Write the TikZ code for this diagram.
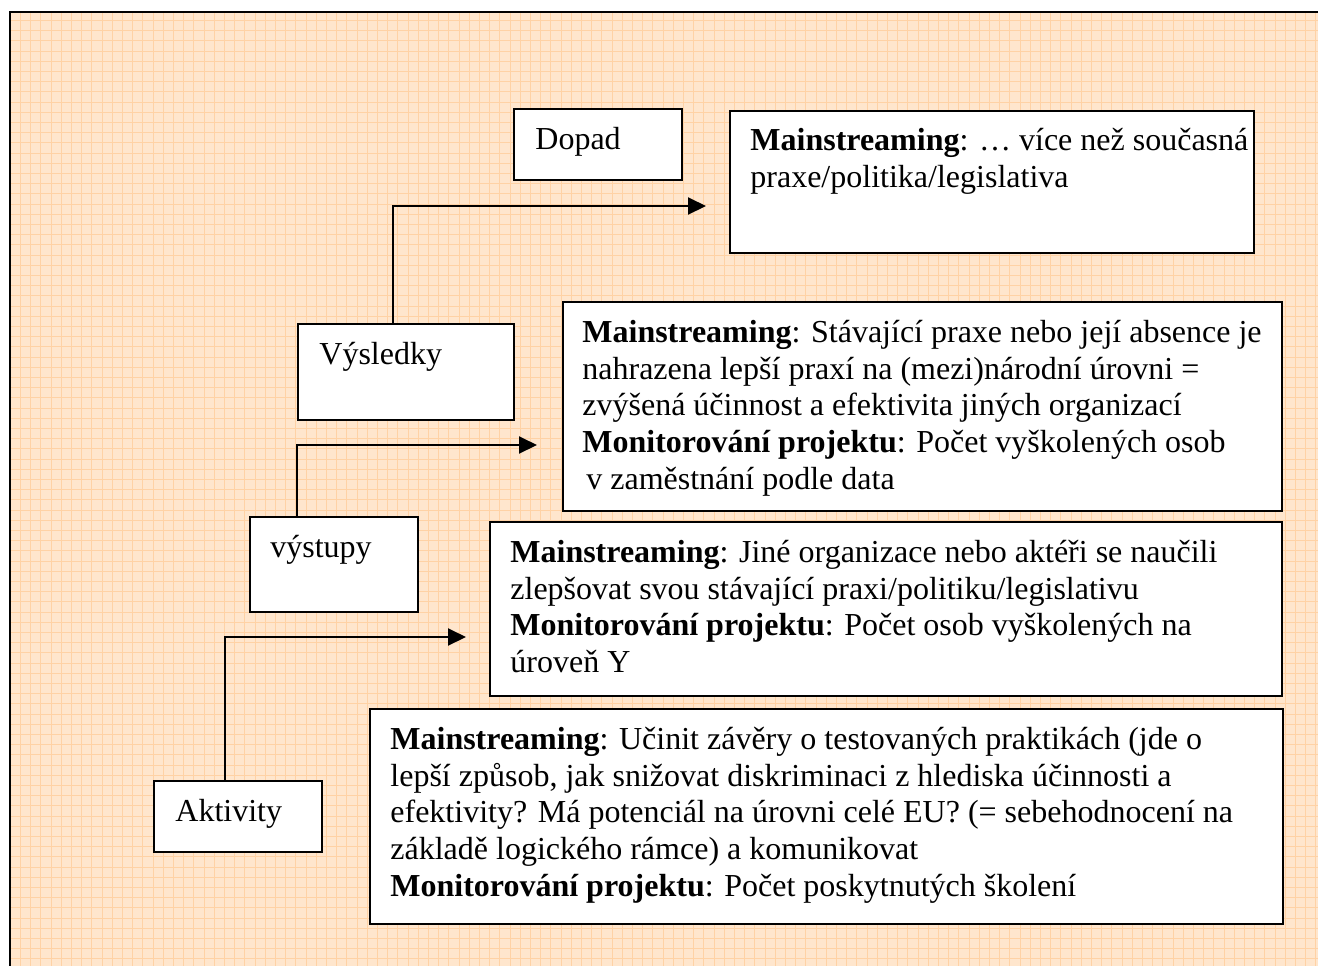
\documentclass[tikz,border=0pt]{standalone}
\usepackage{fontspec}
\setmainfont{Liberation Serif}
\usetikzlibrary{arrows.meta,fit}
\definecolor{gridpeach}{RGB}{255,230,205}
\definecolor{gridorange}{RGB}{255,210,165}
\tikzset{
  lfbox/.style  ={draw=black, fill=white, line width=1pt, inner sep=0pt},
  lftext/.style ={anchor=north west, inner sep=0pt, align=left,
                  font=\fontsize{16pt}{18.3pt}\selectfont},
  lfarrow/.style={-{Triangle[length=9pt, width=8.5pt]}, line width=1pt, black},
  lfgrid/.style ={gridorange, line width=0.5pt},
}

\begin{document}
\begin{tikzpicture}[x=0.5pt, y=-0.5pt]
  \useasboundingbox (0,0) rectangle (1318,965);
  \clip (0,0) rectangle (1318,965);
  % background sheet
  \fill[gridpeach] (10,12) rectangle (1330,975);
  \draw[lfgrid, step=5.1pt] (10,12) grid (1330,975);
  \draw[line width=1pt] (10,975) -- (10,12) -- (1330,12);

  % level boxes
  \node[lfbox, fit={(514,109) (682,180)}]  (dopad) {};
  \node[lfbox, fit={(298,324) (514,420)}]  (vysledky) {};
  \node[lfbox, fit={(250,517) (418,612)}]  (vystupy) {};
  \node[lfbox, fit={(154,781) (322,852)}]  (aktivity) {};
  \node[lftext] at ([shift={(22,19)}]dopad.north west)    {Dopad};
  \node[lftext] at ([shift={(22,19)}]vysledky.north west) {Výsledky};
  \node[lftext] at ([shift={(21,19)}]vystupy.north west)  {výstupy};
  \node[lftext] at ([shift={(22,19)}]aktivity.north west) {Aktivity};

  % description boxes
  \node[lfbox, fit={(730,111) (1254,253)}] (dopadtxt) {};
  \node[lfbox, fit={(563,302) (1282,511)}] (vysledkytxt) {};
  \node[lfbox, fit={(490,522) (1282,696)}] (vystupytxt) {};
  \node[lfbox, fit={(370,709) (1283,924)}] (aktivitytxt) {};

  \node[lftext] at ([shift={(21,18)}]dopadtxt.north west)
    {\textbf{Mainstreaming}: … více než současná\\
     praxe/politika/legislativa};
  \node[lftext] at ([shift={(20,19)}]vysledkytxt.north west)
    {\textbf{Mainstreaming}: Stávající praxe nebo její absence je\\
     nahrazena lepší praxí na (mezi)národní úrovni =\\
     zvýšená účinnost a efektivita jiných organizací\\
     \textbf{Monitorování projektu}: Počet vyškolených osob\\
     \hspace{2pt}v zaměstnání podle data};
  \node[lftext] at ([shift={(21,19)}]vystupytxt.north west)
    {\textbf{Mainstreaming}: Jiné organizace nebo aktéři se naučili\\
     zlepšovat svou stávající praxi/politiku/legislativu\\
     \textbf{Monitorování projektu}: Počet osob vyškolených na\\
     úroveň Y};
  \node[lftext] at ([shift={(21,19)}]aktivitytxt.north west)
    {\textbf{Mainstreaming}: Učinit závěry o testovaných praktikách (jde o\\
     lepší způsob, jak snižovat diskriminaci z hlediska účinnosti a\\
     efektivity? Má potenciál na úrovni celé EU? (= sebehodnocení na\\
     základě logického rámce) a komunikovat\\
     \textbf{Monitorování projektu}: Počet poskytnutých školení};

  % arrows
  \coordinate (dopadtip)    at (706,206);
  \coordinate (vysledkytip) at (537,445);
  \coordinate (vystupytip)  at (466,637);
  \draw[lfarrow] ([shift={(96,0)}]vysledky.north west) |- (dopadtip);
  \draw[lfarrow] ([shift={(48,0)}]vystupy.north west)  |- (vysledkytip);
  \draw[lfarrow] ([shift={(72,0)}]aktivity.north west) |- (vystupytip);
\end{tikzpicture}
\end{document}
